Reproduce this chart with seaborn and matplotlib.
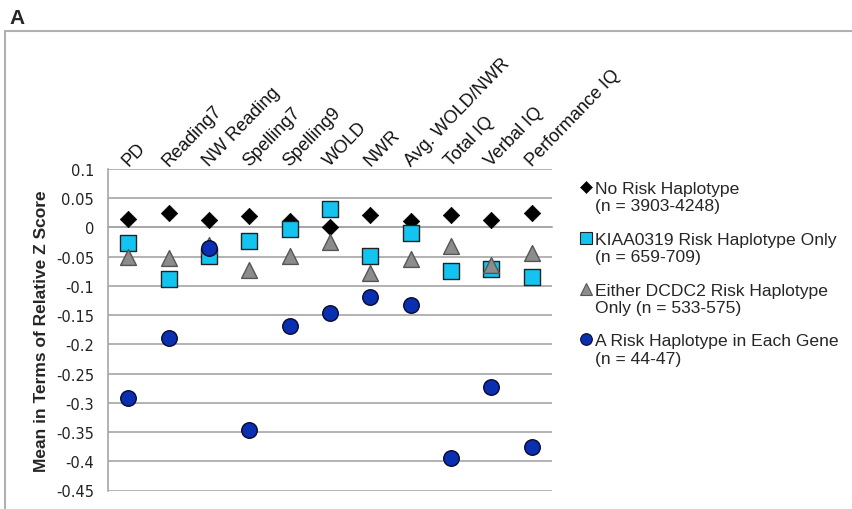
import pandas as pd
import numpy as np
import matplotlib
matplotlib.use("Agg")
import matplotlib.pyplot as plt
import matplotlib.transforms as mtransforms
from matplotlib.lines import Line2D
from matplotlib.patches import Rectangle
import seaborn as sns

# measures (x categories)
measures = ["PD", "Reading7", "NW Reading", "Spelling7", "Spelling9", "WOLD",
            "NWR", "Avg. WOLD/NWR", "Total IQ", "Verbal IQ", "Performance IQ"]

# series values
no_risk = [0.014, 0.025, 0.012, 0.020, 0.011, 0.000, 0.021, 0.011, 0.021, 0.012, 0.024]
kiaa_only = [-0.027, -0.089, -0.048, -0.023, -0.003, 0.031, -0.048, -0.010, -0.074, -0.071, -0.085]
dcdc2_only = [-0.050, -0.053, -0.030, -0.073, -0.048, -0.025, -0.078, -0.054, -0.032, -0.065, -0.044]
both_genes = [-0.291, -0.189, -0.035, -0.347, -0.168, -0.147, -0.119, -0.132, -0.395, -0.273, -0.376]

groups = ["No Risk Haplotype\n(n = 3903-4248)",
          "KIAA0319 Risk Haplotype Only\n(n = 659-709)",
          "Either DCDC2 Risk Haplotype\nOnly (n = 533-575)",
          "A Risk Haplotype in Each Gene\n(n = 44-47)"]

yticks = [0.1, 0.05, 0, -0.05, -0.1, -0.15, -0.2, -0.25, -0.3, -0.35, -0.4, -0.45]

# long table for seaborn
rows = []
for g, vals in zip(groups, [no_risk, kiaa_only, dcdc2_only, both_genes]):
    for i, v in enumerate(vals):
        rows.append({"pos": i, "measure": measures[i], "group": g, "z": v})
df = pd.DataFrame(rows)

sns.set_style("white")
plt.rcParams["font.family"] = ["DejaVu Sans"]

fig = plt.figure(figsize=(8.52, 5.10), dpi=100)
ax = fig.add_axes([108 / 852, 1 - 491.5 / 510, (552 - 108) / 852, (491.5 - 170) / 510])

styles = {
    groups[0]: dict(marker="D", s=70, color="black", edgecolor="black", lw=0.5),
    groups[1]: dict(marker="s", s=120, color="#14c4f0", edgecolor="#222222", lw=1.0),
    groups[2]: dict(marker="^", s=130, color="#8c8c8c", edgecolor="#555555", lw=1.0),
    groups[3]: dict(marker="o", s=125, color="#0a2fb0", edgecolor="#0a0a30", lw=1.0),
}

for k, g in enumerate(groups):
    st = styles[g]
    sns.scatterplot(data=df[df["group"] == g], x="pos", y="z", ax=ax,
                    marker=st["marker"], s=st["s"], color=st["color"],
                    edgecolor=st["edgecolor"], linewidth=st["lw"],
                    zorder=3 + k, legend=False)

ax.set_xlim(-0.5, len(measures) - 0.5)
ax.set_ylim(-0.45, 0.1)
ax.set_yticks(yticks)
ax.set_yticklabels(["%g" % t for t in yticks], fontsize=10.5, color="#222222")
ax.yaxis.grid(True, color="#a6a6a6", linewidth=1.2)
ax.set_axisbelow(True)

for sp in ["top", "right"]:
    ax.spines[sp].set_visible(False)
ax.spines["left"].set_color("#a6a6a6")
ax.spines["left"].set_linewidth(1.2)
ax.spines["bottom"].set_position(("data", 0))
ax.spines["bottom"].set_color("#a6a6a6")
ax.spines["bottom"].set_linewidth(1.2)
ax.tick_params(axis="y", length=7, width=1.2, color="#a6a6a6", pad=3)

# category boundaries as ticks on the zero line
ax.set_xticks(np.arange(-0.5, len(measures), 1.0))
ax.set_xticklabels([])
ax.tick_params(axis="x", length=5, width=1.2, color="#a6a6a6", direction="out")
ax.set_xlabel("")
ax.set_ylabel("Mean in Terms of Relative Z Score", fontsize=12.5, fontweight="bold",
              family="Liberation Sans", labelpad=5)

# rotated category names above the plot
trans = mtransforms.blended_transform_factory(ax.transData, ax.transAxes)
offset = mtransforms.ScaledTranslation(3 / 100, 0 / 100, fig.dpi_scale_trans)
for i, name in enumerate(measures):
    ax.text(i, 1.0, name, transform=trans + offset, rotation=46,
            rotation_mode="anchor", ha="left", va="bottom",
            fontsize=13, family="Liberation Sans", color="#111111")

# legend
handles = []
for g in groups:
    st = styles[g]
    handles.append(Line2D([], [], linestyle="none", marker=st["marker"],
                          markersize=np.sqrt(st["s"]) * 0.75,
                          markerfacecolor=st["color"],
                          markeredgecolor=st["edgecolor"],
                          markeredgewidth=st["lw"] * 0.8))
leg = fig.legend(handles, groups, loc="upper left", bbox_to_anchor=(573 / 852, 1 - 175 / 510),
                 frameon=False, prop={"family": "Liberation Sans", "size": 12.6},
                 handlelength=0.7, handletextpad=0.15, labelspacing=1.05, borderaxespad=0)
# put each marker beside the first line of its label
for col in leg._legend_handle_box.get_children():
    for hp in col.get_children():
        hp.align = "top"

# panel letter and frame
fig.text(9 / 852, 1 - 19 / 510, "A", fontsize=15, fontweight="bold",
         family="Liberation Sans", va="center", ha="left")
fig.add_artist(Rectangle((5 / 852, -0.02), 1.0, 1 - 32 / 510 + 0.02,
                         transform=fig.transFigure, fill=False,
                         edgecolor="#b0b0b0", linewidth=1.5))

plt.savefig("out.png", dpi=100)
